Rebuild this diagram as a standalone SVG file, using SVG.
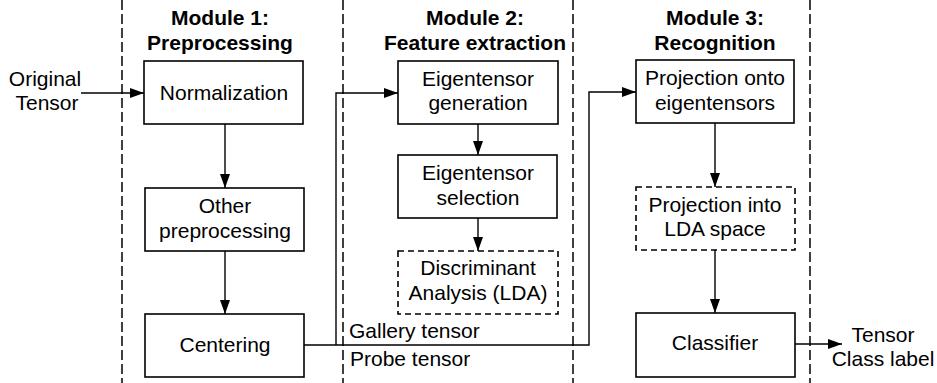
<svg xmlns="http://www.w3.org/2000/svg" width="937" height="383" viewBox="0 0 937 383">
<style>
text{font-family:"Liberation Sans",Arial,sans-serif;font-size:21px;fill:#000;text-anchor:middle}
.t{font-weight:bold}
.box{fill:#fff;stroke:#000;stroke-width:1.6}
.dbox{fill:#fff;stroke:#000;stroke-width:1.6;stroke-dasharray:6,4}
.sep{stroke:#000;stroke-width:1.5;stroke-dasharray:10,4;fill:none}
.c{stroke:#000;stroke-width:1.4;fill:none}
</style>
<defs>
<marker id="ah" markerUnits="userSpaceOnUse" markerWidth="14" markerHeight="10" refX="14" refY="5" orient="auto">
<path d="M0,0 L14,5 L0,10 Z" fill="#000"/>
</marker>
</defs>
<g id="separators">
<line class="sep" x1="122" y1="0" x2="122" y2="383"/>
<line class="sep" x1="343" y1="0" x2="343" y2="383"/>
<line class="sep" x1="573" y1="0" x2="573" y2="383"/>
<line class="sep" x1="810" y1="0" x2="810" y2="383"/>
</g>
<g id="titles">
<text class="t" x="220" y="25">Module 1:</text>
<text class="t" x="220" y="50">Preprocessing</text>
<text class="t" x="475" y="25">Module 2:</text>
<text class="t" x="475" y="50">Feature extraction</text>
<text class="t" x="715" y="25">Module 3:</text>
<text class="t" x="715" y="50">Recognition</text>
</g>
<g id="connectors">
<line class="c" x1="81" y1="93" x2="144" y2="93" marker-end="url(#ah)"/>
<line class="c" x1="225" y1="124" x2="225" y2="188" marker-end="url(#ah)"/>
<line class="c" x1="225" y1="251" x2="225" y2="314" marker-end="url(#ah)"/>
<polyline class="c" points="304,345 589,345 589,92 636,92" marker-end="url(#ah)"/>
<polyline class="c" points="336,345 336,93 398,93" marker-end="url(#ah)"/>
<line class="c" x1="478" y1="124" x2="478" y2="155" marker-end="url(#ah)"/>
<line class="c" x1="478" y1="218" x2="478" y2="251" marker-end="url(#ah)"/>
<line class="c" x1="715" y1="123" x2="715" y2="187" marker-end="url(#ah)"/>
<line class="c" x1="715" y1="250" x2="715" y2="313" marker-end="url(#ah)"/>
<line class="c" x1="795" y1="344" x2="842" y2="344" marker-end="url(#ah)"/>
</g>
<g id="input">
<text x="45" y="86">Original</text>
<text x="47" y="110">Tensor</text>
</g>
<g id="normalization">
<rect class="box" x="144" y="61" width="159" height="63"/>
<text x="224" y="100">Normalization</text>
</g>
<g id="other">
<rect class="box" x="145" y="188" width="159" height="63"/>
<text x="225" y="213">Other</text>
<text x="225" y="238">preprocessing</text>
</g>
<g id="centering">
<rect class="box" x="145" y="314" width="159" height="63"/>
<text x="225" y="352">Centering</text>
</g>
<g id="gen">
<rect class="box" x="398" y="61" width="160" height="63"/>
<text x="478" y="86">Eigentensor</text>
<text x="478" y="110">generation</text>
</g>
<g id="sel">
<rect class="box" x="398" y="155" width="159" height="63"/>
<text x="478" y="180">Eigentensor</text>
<text x="478" y="205">selection</text>
</g>
<g id="lda">
<rect class="dbox" x="398" y="251" width="160" height="63"/>
<text x="478" y="275">Discriminant</text>
<text x="478" y="300">Analysis (LDA)</text>
</g>
<g id="labels">
<text x="349" y="338" style="text-anchor:start">Gallery tensor</text>
<text x="350" y="366" style="text-anchor:start">Probe tensor</text>
</g>
<g id="proj">
<rect class="box" x="636" y="60" width="158" height="63"/>
<text x="715" y="85">Projection onto</text>
<text x="715" y="110">eigentensors</text>
</g>
<g id="projlda">
<rect class="dbox" x="636" y="187" width="159" height="63"/>
<text x="715" y="212">Projection into</text>
<text x="715" y="236">LDA space</text>
</g>
<g id="classifier">
<rect class="box" x="636" y="313" width="159" height="64"/>
<text x="715" y="350">Classifier</text>
</g>
<g id="output">
<text x="883" y="342">Tensor</text>
<text x="883" y="366">Class label</text>
</g>
</svg>
